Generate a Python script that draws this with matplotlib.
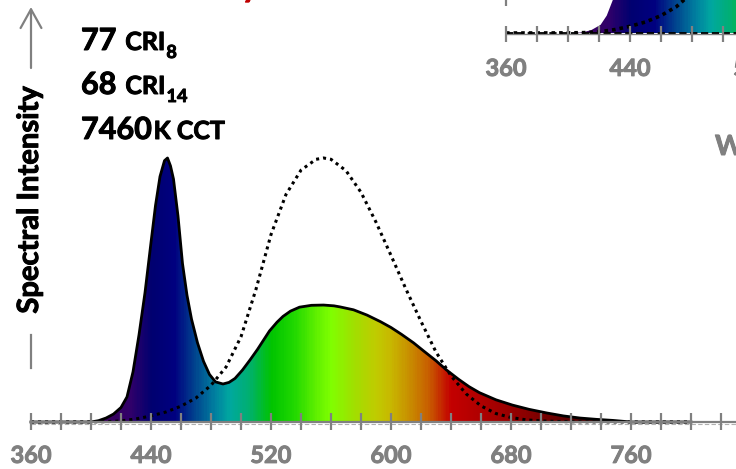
import numpy as np
import matplotlib
matplotlib.use('Agg')
import matplotlib.pyplot as plt
import matplotlib.patheffects as pe
from matplotlib.colors import LinearSegmentedColormap, Normalize

# Spectrum of the LED (relative, blue peak = 1)
spd_nm = [360, 400, 405, 410, 415, 420, 424, 428, 432, 436, 440, 443, 446, 449, 451,
          453, 455, 458, 461, 464, 467, 471, 475, 479, 483, 488, 492, 496, 501, 506,
          511, 515, 519, 524, 528, 533, 539, 547, 555, 562, 566, 575, 584, 593, 600,
          607, 615, 622, 630, 637, 645, 652, 659, 670, 681, 692, 704, 715, 726, 737,
          748, 760, 800]
spd_val = [0, 0, 0.005, 0.015, 0.03, 0.055, 0.095, 0.19, 0.33, 0.49, 0.68, 0.82, 0.93, 0.99, 1.0,
           0.97, 0.92, 0.78, 0.60, 0.48, 0.39, 0.30, 0.23, 0.18, 0.152, 0.144, 0.15, 0.165, 0.197, 0.235,
           0.275, 0.31, 0.345, 0.378, 0.40, 0.42, 0.435, 0.442, 0.443, 0.44, 0.436, 0.425, 0.405, 0.38, 0.358,
           0.332, 0.30, 0.268, 0.232, 0.197, 0.162, 0.134, 0.111, 0.084, 0.064, 0.048, 0.034, 0.023, 0.015, 0.01,
           0.006, 0.0, 0]

# Eye sensitivity curve (dotted)
v_nm = [360, 370, 380, 390, 400, 410, 420, 430, 440, 450, 460, 470, 480, 490, 500, 510,
        520, 530, 540, 550, 555, 560, 570, 580, 590, 600, 610, 620, 630, 640, 650, 660,
        670, 680, 690, 700, 710, 720, 730, 740, 750, 760, 800]
v_val = [0, 0, 0.00004, 0.00012, 0.0004, 0.0012, 0.004, 0.0116, 0.023, 0.038, 0.06, 0.091,
         0.139, 0.208, 0.323, 0.503, 0.71, 0.862, 0.954, 0.995, 1.0, 0.995, 0.952, 0.87,
         0.757, 0.631, 0.503, 0.381, 0.265, 0.175, 0.107, 0.061, 0.032, 0.017, 0.0082,
         0.0041, 0.0021, 0.00105, 0.00052, 0.00025, 0.00012, 0.00006, 0]

# visible corner of the second (inset) spectrum
inset_nm = [360, 405, 410, 415, 421, 425, 429, 435, 445, 460, 480, 500, 520]
inset_val = [0, 0, 0.003, 0.01, 0.028, 0.06, 0.115, 0.25, 0.5, 0.45, 0.3, 0.35, 0.45]

ticks = list(range(360, 841, 20))
tick_labels = [360, 440, 520, 600, 680, 760]
inset_ticks = list(range(360, 521, 20))
inset_labels = [360, 440, 520]

stats = [('77', 'CRI', '8'), ('68', 'CRI', '14'), ('7460', 'K CCT', '')]

# rainbow colours along the wavelength axis
color_nodes = [(360, '#200030'), (405, '#3a0058'), (425, '#32006a'), (440, '#000070'),
               (455, '#000080'), (470, '#004a90'), (482, '#0080a0'), (492, '#00a8a0'),
               (505, '#00b070'), (520, '#00c400'), (535, '#20d800'), (550, '#60f000'),
               (560, '#80ff00'), (575, '#a0e000'), (590, '#c0cc00'), (600, '#c8b800'),
               (612, '#c89000'), (625, '#c86000'), (640, '#c40000'), (660, '#b00000'),
               (690, '#8c0000'), (720, '#5a0000'), (760, '#200000'), (800, '#000000')]
cmap = LinearSegmentedColormap.from_list(
    'spec', [((n - 360) / 440, c) for n, c in color_nodes])

FONT = ['Lato', 'DejaVu Sans']
GREY = '#808080'
W, H = 736, 469

fig = plt.figure(figsize=(W / 100, H / 100), dpi=100)
renderer = fig.canvas.get_renderer()


def fpos(x, y):
    return x / W, 1 - y / H


def bold(color):
    # Lato Bold is a bit lighter than the original face, thicken it slightly
    return dict(fontweight='bold', family=FONT, color=color,
                path_effects=[pe.withStroke(linewidth=0.7, foreground=color)])


def rainbow_fill(ax, nm, val, top):
    poly = ax.fill_between(nm, val, 0, color='none', lw=0)
    grid = np.linspace(360, 800, 600)[None, :]
    im = ax.imshow(grid, extent=[360, 800, 0, top], aspect='auto', origin='lower',
                   cmap=cmap, norm=Normalize(360, 800), zorder=1, interpolation='bilinear')
    im.set_clip_path(poly.get_paths()[0], transform=ax.transData)


# ---- main chart: 360 nm at x=31px, 1.5 px/nm, baseline y=422px, peak 264px tall
ax = fig.add_axes([0, 0, 1, 1])
rainbow_fill(ax, spd_nm, spd_val, 1.1)
ax.plot(v_nm, v_val, color='black', lw=2.2, ls=(0, (1, 1.3)), zorder=3)
ax.plot(spd_nm, spd_val, color='black', lw=2.0, zorder=4, solid_joinstyle='round')
ax.plot([360, 840], [0, 0], color=GREY, lw=1.6, zorder=5)
ax.plot([360, 840], [-0.007, -0.007], color='#b0b0b0', lw=0.8, ls=(0, (4, 2)), zorder=5)
ax.vlines(ticks, -0.03, 0.034, color=GREY, lw=1.6, zorder=5)
for t in tick_labels:
    ax.text(t, -0.155, str(t), ha='center', va='baseline', fontsize=17, **bold(GREY))
ax.set_xlim(360 - 31 / 1.5, 360 + 705 / 1.5)
ax.set_ylim(-47 / 264, 422 / 264)
ax.axis('off')

# ---- inset at top right (mostly outside the crop)
ax2 = fig.add_axes([480 / W, 1 - 100 / H, 256 / W, 100 / H])
rainbow_fill(ax2, inset_nm, inset_val, 0.5)
ax2.plot(v_nm, v_val, color='black', lw=2.6, ls=(0, (1, 1.1)), zorder=3)
ax2.plot([360, 560], [-0.004, -0.004], color=GREY, lw=1.0, zorder=4)
ax2.plot([360, 560], [0, 0], color='black', lw=1.3, ls=(0, (4, 2)), zorder=5)
ax2.vlines(inset_ticks, -0.03, 0.025, color=GREY, lw=1.6, zorder=5)
ax2.vlines([360], 0.093, 0.2, color=GREY, lw=1.6, zorder=5)
for t in inset_labels:
    ax2.text(t, -0.148, str(t), ha='center', va='baseline', fontsize=17,
             clip_on=False, **bold(GREY))
ax2.set_xlim(360 - 26 / 1.55, 360 + 230 / 1.55)
ax2.set_ylim(-67 / 290, 33 / 290)
ax2.axis('off')

# ---- y axis label with arrow
fig.text(*fpos(30, 200), 'Spectral Intensity', rotation=90, ha='center', va='center',
         fontsize=21, **bold('black'))
fig.add_artist(matplotlib.patches.FancyArrowPatch(
    fpos(31, 68), fpos(31, 7), transform=fig.transFigure,
    arrowstyle='->,head_length=0.45,head_width=0.25', mutation_scale=30,
    color=GREY, lw=1.6, shrinkA=0, shrinkB=0))
fig.add_artist(plt.Line2D([31 / W, 31 / W], [1 - 335 / H, 1 - 368 / H],
                          transform=fig.transFigure, color=GREY, lw=1.6))

# ---- CRI / CCT block
baselines = [50, 94, 139]
gaps = [9, 9, 2]
for (num, name, sub), yb, gap in zip(stats, baselines, gaps):
    t = fig.text(*fpos(81, yb), num, fontsize=22, va='baseline', ha='left', **bold('black'))
    x = t.get_window_extent(renderer).x1 + gap
    t = fig.text(x / W, 1 - yb / H, name, fontsize=18, va='baseline', ha='left',
                 **bold('black'))
    x = t.get_window_extent(renderer).x1 + 1
    if sub:
        fig.text(x / W, 1 - (yb + 8) / H, sub, fontsize=13, va='baseline', ha='left',
                 **bold('black'))

# cut-off bits of neighbouring text
fig.text(*fpos(715, 155), 'Wavelength', fontsize=20, va='baseline', ha='left', **bold(GREY))
fig.text(*fpos(250, -3), 'y', fontsize=22, va='baseline', ha='center', **bold('#c00000'))

fig.savefig('out.png', dpi=100)
